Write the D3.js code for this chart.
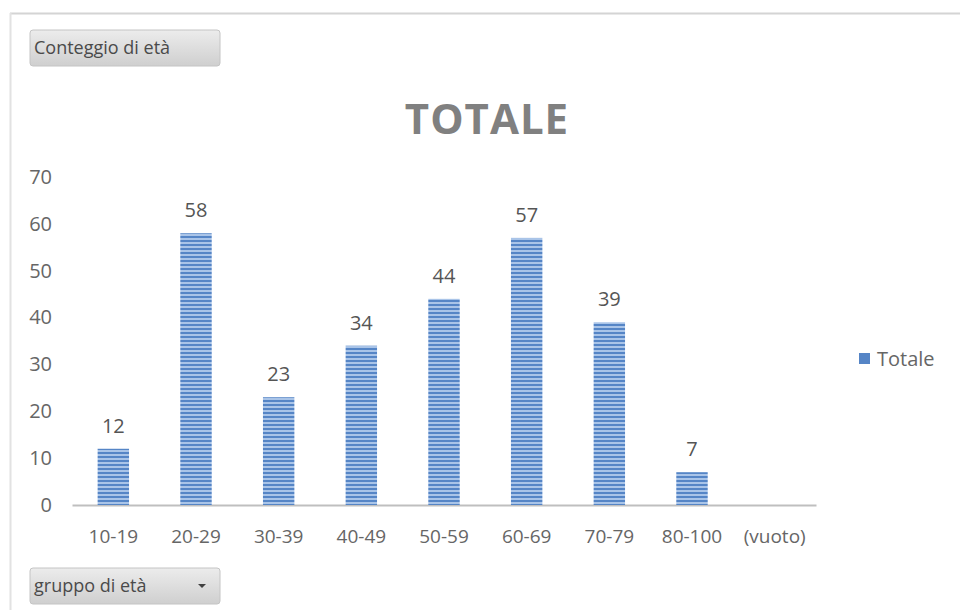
<!DOCTYPE html>
<html><head><meta charset="utf-8">
<script src="https://cdn.jsdelivr.net/npm/d3@7"></script>
<style>body{margin:0;background:#fff}svg{display:block}text{font-family:"Open Sans",sans-serif}</style>
</head><body><svg id="c" width="960" height="610"></svg>
<script>
const categories = ["10-19","20-29","30-39","40-49","50-59","60-69","70-79","80-100","(vuoto)"];
const values = [12,58,23,34,44,57,39,7,null];
const yTicks = [0,10,20,30,40,50,60,70];
const seriesName = "Totale";
const chartTitle = "TOTALE";

const FONT = '"Open Sans",sans-serif';
const svg = d3.select("#c");
const defs = svg.append("defs");
const pat = defs.append("pattern").attr("id","stripes").attr("patternUnits","userSpaceOnUse")
  .attr("width",40).attr("height",4);
pat.append("rect").attr("width",40).attr("height",4).attr("fill","#5585c6");
pat.append("rect").attr("y",2).attr("width",40).attr("height",2).attr("fill","#a9c4e8");
const g1 = defs.append("linearGradient").attr("id","btn").attr("x1",0).attr("x2",0).attr("y1",0).attr("y2",1);
g1.append("stop").attr("offset",0).attr("stop-color","#ececec");
g1.append("stop").attr("offset",1).attr("stop-color","#cfcfcf");

// frame
svg.append("line").attr("x1",10).attr("x2",960).attr("y1",13.5).attr("y2",13.5).attr("stroke","#d4d4d4").attr("stroke-width",2);
svg.append("line").attr("x1",10.5).attr("x2",10.5).attr("y1",13).attr("y2",610).attr("stroke","#e2e2e2").attr("stroke-width",2);

// buttons
function button(x,y,w,h,label,arrow){
  svg.append("rect").attr("x",x).attr("y",y).attr("width",w).attr("height",h).attr("rx",3)
    .attr("fill","url(#btn)").attr("stroke","#c4c4c4");
  svg.append("text").attr("x",x+4).attr("y",y+h/2+6).attr("font-size",18).attr("fill","#4a4a4a").text(label);
  if(arrow){
    svg.append("path").attr("d",`M${x+w-22},${y+h/2-2}l8,0l-4,4z`).attr("fill","#404040");
  }
}
button(30,30,190,36,"Conteggio di età",false);
button(30,568,190,36,"gruppo di età",true);

const x = d3.scaleBand().domain(categories).range([72,816]).paddingInner(0.62).paddingOuter(0.31);
const y = d3.scaleLinear().domain([0,70]).range([505,177]);

svg.append("text").attr("x",487).attr("y",134).attr("text-anchor","middle").attr("font-size",42)
  .attr("font-weight","bold").attr("letter-spacing",1).attr("fill","#808080").text(chartTitle);

// y axis labels
const ya = svg.append("g").attr("transform","translate(52,0)")
  .call(d3.axisLeft(y).tickValues(yTicks).tickSize(0).tickPadding(0));
ya.select(".domain").remove();
ya.selectAll("text").attr("font-size",20).attr("fill","#666").attr("font-family",FONT);

// x axis
const xa = svg.append("g").attr("transform","translate(0,505)")
  .call(d3.axisBottom(x).tickSize(0).tickPadding(25));
xa.select(".domain").attr("stroke","#bfbfbf").attr("stroke-width",2);
xa.selectAll("text").attr("font-size",19).attr("fill","#666").attr("font-family",FONT);

const data = categories.map((c,i)=>({c,v:values[i]})).filter(d=>d.v!=null);
svg.append("g").selectAll("rect").data(data).join("rect")
  .attr("x",d=>x(d.c)).attr("width",x.bandwidth())
  .attr("y",d=>y(d.v)).attr("height",d=>y(0)-y(d.v))
  .attr("fill","url(#stripes)");
svg.append("g").selectAll("text").data(data).join("text")
  .attr("x",d=>x(d.c)+x.bandwidth()/2).attr("y",d=>y(d.v)-16)
  .attr("text-anchor","middle").attr("font-size",20).attr("fill","#555").text(d=>d.v);

// legend
svg.append("rect").attr("x",859).attr("y",353).attr("width",11).attr("height",11).attr("fill","#5585c6");
svg.append("text").attr("x",877).attr("y",366).attr("font-size",20).attr("fill","#666").text(seriesName);
</script></body></html>
